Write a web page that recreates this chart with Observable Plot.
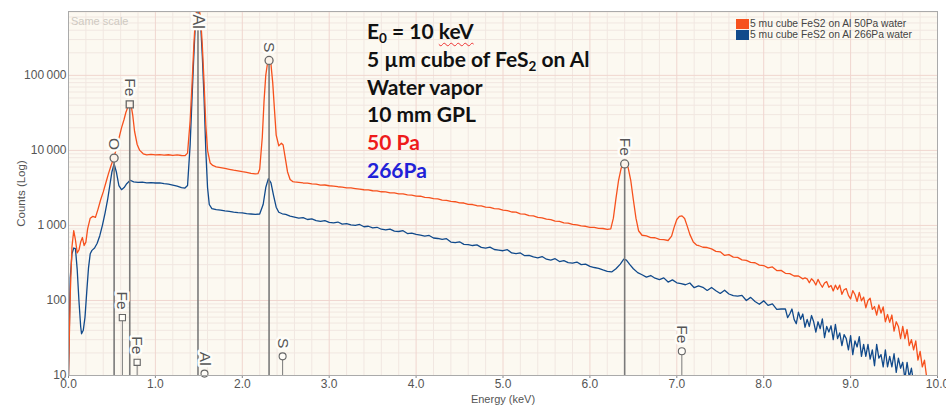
<!DOCTYPE html>
<html><head><meta charset="utf-8">
<script src="https://cdn.jsdelivr.net/npm/d3@7"></script>
<script src="https://cdn.jsdelivr.net/npm/@observablehq/plot@0.6"></script>
<style>
body{margin:0;background:#fff;}
#wrap{position:relative;width:946px;height:405px;}
#note{position:absolute;left:367px;top:17px;font-family:Lato,"Open Sans",sans-serif;font-weight:bold;font-size:21px;line-height:27.8px;color:#111;white-space:nowrap;}
#note sub{font-size:13.5px;line-height:0;vertical-align:-4px;}
#note .sq{text-decoration:underline wavy #e33;text-decoration-thickness:1px;text-underline-offset:3px;}
#legend{position:absolute;left:736px;top:19px;font-family:"Liberation Sans",Arial,sans-serif;font-size:10.3px;color:#444;line-height:10.5px;}
#legend .row{display:flex;align-items:center;height:10.5px;}
#legend .sw{width:13px;height:10px;margin-right:1px;}
#same{position:absolute;left:71px;top:15px;font-family:"Liberation Sans",Arial,sans-serif;font-size:11px;color:#cfcac2;}
g[aria-label$="tick label"]{font-family:"Liberation Sans Narrow","Liberation Sans",Arial,sans-serif;font-size:12px;}
g[aria-label="x-axis label"]{font-size:11px;}
</style>
</head><body>
<div id="wrap"></div>
<script>
// Spectrum 1: 5 mu cube FeS2 on Al, 50 Pa water  [energy keV, counts]
const spec50 = [
[0.00,10],[0.02,120],[0.04,520],[0.06,850],[0.08,640],[0.10,430],[0.12,470],[0.14,600],[0.16,690],[0.18,540],[0.20,600],[0.22,900],[0.25,1250],[0.28,1320],[0.31,1280],[0.34,1650],[0.37,2200],[0.40,2800],[0.43,3700],[0.46,4900],[0.49,6300],[0.52,7900],[0.55,10500],[0.58,14500],[0.61,20000],[0.64,26000],[0.66,32000],[0.68,37000],[0.70,40500],[0.72,40000],[0.74,29000],[0.76,18000],[0.79,12000],[0.82,10000],[0.86,9000],[0.90,8700],[0.95,8850],[1.00,8700],[1.05,8800],[1.10,8650],[1.15,8750],[1.20,8600],[1.25,8700],[1.30,8550],[1.34,8500],[1.37,9200],[1.40,25000],[1.42,70000],[1.44,220000],[1.46,600000],[1.49,900000],[1.52,600000],[1.54,250000],[1.56,80000],[1.58,22000],[1.60,10000],[1.63,6800],[1.66,6300],[1.70,6050],[1.75,5900],[1.80,5750],[1.85,5600],[1.90,5450],[1.95,5350],[2.00,5200],[2.05,5100],[2.10,4950],[2.15,4880],[2.18,4900],[2.20,5600],[2.23,15000],[2.25,45000],[2.27,100000],[2.29,145000],[2.31,160000],[2.33,140000],[2.35,80000],[2.37,35000],[2.39,16000],[2.42,11500],[2.45,12500],[2.47,11800],[2.49,8500],[2.52,5200],[2.55,4100],[2.58,3850],
[2.60,3800],[2.65,3760],[2.70,3680],[2.75,3660],[2.80,3570],[2.85,3560],[2.90,3450],[2.95,3460],[3.00,3380],[3.05,3340],[3.10,3280],[3.15,3250],[3.20,3170],[3.25,3160],[3.30,3100],[3.35,3050],[3.40,2990],[3.45,2980],[3.50,2900],[3.55,2880],[3.60,2810],[3.65,2800],[3.70,2720],[3.75,2710],[3.80,2640],[3.85,2630],[3.90,2550],[3.95,2530],[4.00,2460],[4.05,2450],[4.10,2360],[4.15,2350],[4.20,2270],[4.25,2260],[4.30,2180],[4.35,2160],[4.40,2090],[4.45,2070],[4.50,2000],[4.55,1990],[4.60,1910],[4.65,1900],[4.70,1830],[4.75,1820],[4.80,1750],[4.85,1740],[4.90,1670],[4.95,1660],[5.00,1600],[5.05,1580],[5.10,1510],[5.15,1500],[5.20,1430],[5.25,1415],[5.30,1350],[5.35,1340],[5.40,1280],[5.45,1265],[5.50,1210],[5.55,1195],[5.60,1140],[5.65,1130],[5.70,1080],[5.75,1075],[5.80,1030],[5.85,1020],[5.90,985],[5.95,975],[6.00,945],[6.05,940],[6.10,915],[6.15,910],[6.20,885],
[6.24,900],[6.27,1250],[6.30,2300],[6.33,4000],[6.36,5800],[6.39,6600],[6.41,6700],[6.44,5900],[6.47,4000],[6.50,2200],[6.53,1250],[6.56,850],[6.60,740],[6.65,725],[6.70,690],[6.75,685],[6.80,650],[6.85,645],[6.90,630],[6.94,720],[6.97,950],[7.00,1200],[7.03,1320],[7.06,1340],[7.09,1240],[7.12,980],[7.15,760],[7.19,600],[7.23,545],
[7.25,540],[7.30,512],[7.35,508],[7.40,488],[7.45,452],[7.50,445],[7.55,398],[7.60,408],[7.65,378],[7.70,375],[7.75,348],[7.80,342],[7.85,322],[7.90,318],[7.95,296],[8.00,292],[8.05,272],[8.10,280],[8.15,250],[8.20,252],[8.25,230],[8.30,228],[8.35,212],[8.40,212],[8.45,194],[8.475,200],
[8.500,194],[8.525,172],[8.550,195],[8.575,182],[8.600,161],[8.625,191],[8.650,167],[8.675,150],[8.700,171],[8.725,178],[8.750,150],[8.775,158],[8.800,134],[8.825,160],[8.850,140],[8.875,160],[8.900,121],[8.925,139],[8.950,144],[8.975,117],[9.000,105],[9.025,135],[9.050,120],[9.075,97],[9.100,128],[9.125,99],[9.150,111],[9.175,80],[9.200,100],[9.225,107],[9.250,76],[9.275,83],[9.300,64],[9.325,87],[9.350,68],[9.375,82],[9.400,52],[9.425,65],[9.450,51],[9.475,64],[9.500,39],[9.525,52],[9.550,45],[9.575,31],[9.600,45],[9.625,31],[9.650,41],[9.675,25],[9.700,30],[9.725,22],[9.750,29],[9.775,16],[9.800,21],[9.825,13],[9.850,16],[9.875,9.5],[9.900,9]
];
// Spectrum 2: 5 mu cube FeS2 on Al, 266 Pa water  [energy keV, counts]
const spec266 = [
[0.00,10],[0.02,200],[0.04,420],[0.06,500],[0.08,490],[0.10,260],[0.12,100],[0.14,45],[0.15,36],[0.17,40],[0.19,60],[0.21,130],[0.23,270],[0.25,420],[0.27,465],[0.30,500],[0.33,580],[0.36,730],[0.39,1000],[0.42,1450],[0.45,2200],[0.48,3700],[0.50,5200],[0.525,6600],[0.55,5200],[0.58,3400],[0.61,3000],[0.64,3200],[0.67,3600],[0.71,4000],[0.75,3800],[0.80,3750],[0.85,3780],[0.90,3700],[0.95,3720],[1.00,3680],[1.05,3700],[1.10,3600],[1.15,3550],[1.20,3450],[1.25,3350],[1.30,3200],[1.34,3150],[1.37,3400],[1.40,12000],[1.42,45000],[1.44,160000],[1.46,500000],[1.49,800000],[1.52,500000],[1.54,180000],[1.56,50000],[1.58,10000],[1.60,3200],[1.62,1900],[1.65,1680],[1.70,1620],[1.75,1600],[1.80,1560],[1.85,1540],[1.90,1500],[1.95,1480],[2.00,1470],[2.05,1440],[2.10,1420],[2.15,1400],[2.20,1420],[2.24,1900],[2.27,3200],[2.30,4200],[2.33,3700],[2.36,2500],[2.39,1750],[2.42,1500],[2.46,1430],[2.50,1400],[2.55,1330],
[2.60,1290],[2.65,1250],[2.70,1270],[2.75,1200],[2.80,1220],[2.85,1160],[2.90,1130],[2.95,1160],[3.00,1100],[3.05,1080],[3.10,1110],[3.15,1040],[3.20,1060],[3.25,1020],[3.30,1000],[3.35,1030],[3.40,960],[3.45,975],[3.50,930],[3.55,945],[3.60,890],[3.65,870],[3.70,895],[3.75,840],[3.80,830],[3.85,850],[3.90,780],[3.95,790],[4.00,760],[4.05,745],[4.10,720],[4.15,735],[4.20,680],[4.25,670],[4.30,650],[4.35,665],[4.40,600],[4.45,590],[4.50,605],[4.55,560],[4.60,555],[4.65,540],[4.70,550],[4.75,510],[4.80,500],[4.85,515],[4.90,478],[4.95,470],[5.00,460],[5.05,475],[5.10,430],[5.15,420],[5.20,430],[5.25,395],[5.30,400],[5.35,380],[5.40,370],[5.45,385],[5.50,355],[5.55,345],[5.60,360],[5.65,330],[5.70,340],[5.75,320],[5.80,315],[5.85,325],[5.90,300],[5.95,305],[6.00,285],[6.05,275],[6.10,268],[6.15,255],[6.20,245],
[6.25,240],[6.30,265],[6.35,305],[6.39,355],[6.42,345],[6.46,300],[6.50,265],[6.55,235],[6.60,220],[6.65,205],[6.70,215],[6.75,198],[6.80,190],[6.85,200],[6.90,176],[6.95,188],[7.00,172],[7.05,168],[7.10,162],[7.15,171],[7.20,148],[7.25,156],[7.30,150],[7.35,136],[7.40,149],[7.45,135],[7.50,124],[7.55,137],[7.60,122],[7.65,116],[7.70,114],[7.75,117],[7.80,100],[7.85,110],[7.90,97],[7.95,89],[8.00,99],[8.05,86],[8.10,90],[8.15,76],[8.20,77],
[8.250,77],[8.275,59],[8.300,66],[8.325,77],[8.350,56],[8.375,49],[8.400,70],[8.425,56],[8.450,66],[8.475,44],[8.500,56],[8.525,45],[8.550,63],[8.575,52],[8.600,38],[8.625,52],[8.650,42],[8.675,57],[8.700,32],[8.725,45],[8.750,38],[8.775,46],[8.800,30],[8.825,48],[8.850,31],[8.875,37],[8.900,25],[8.925,35],[8.950,31],[8.975,22],[9.000,34],[9.025,19],[9.050,29],[9.075,24],[9.100,33],[9.125,18],[9.150,26],[9.175,18],[9.200,26],[9.225,16.5],[9.250,22],[9.275,13.5],[9.300,26],[9.325,17],[9.350,19],[9.375,13],[9.400,22],[9.425,13],[9.450,18],[9.475,13],[9.500,19.5],[9.525,11],[9.550,17],[9.575,12.5],[9.600,15],[9.625,9],[9.650,15],[9.675,9.5],[9.700,12.5],[9.725,8],[9.750,10],[9.775,8]
];
const seriesNames = ["5 mu cube FeS2 on Al 50Pa water", "5 mu cube FeS2 on Al 266Pa water"];
const seriesColors = ["#f6511d", "#114a8b"];

// X-ray line markers
const majorMarkers = [
  {el: "O",  e: 0.525, c: 7900,   sym: "circle"},
  {el: "Fe", e: 0.705, c: 41000,  sym: "square"},
  {el: "S",  e: 2.308, c: 158000, sym: "circle"},
  {el: "Fe", e: 6.400, c: 6600,   sym: "circle"}
];
const topMarkers = [{el: "Al", e: 1.49}];
const minorMarkers = [
  {el: "Fe", e: 0.62,  c: 59,   sym: "square"},
  {el: "Fe", e: 0.79,  c: 15,   sym: "square"},
  {el: "Al", e: 1.565, c: 10.6, sym: "circle"},
  {el: "S",  e: 2.464, c: 18,   sym: "circle"},
  {el: "Fe", e: 7.058, c: 21,   sym: "circle"}
];

const xTicks = [0,1,2,3,4,5,6,7,8,9,10];
const yTicks = [10,100,1000,10000,100000];
const yTop = 710000;

const xMinor = d3.range(0, 10.001, 0.2).map(v => +v.toFixed(1)).filter(v => !xTicks.includes(v));
const yMinor = yTicks.flatMap(d => [2,3,4,5,6,7,8,9].map(k => k * d)).filter(v => v < yTop);

const halo = "#fefdf9";
const chart = Plot.plot({
  width: 946, height: 405,
  marginLeft: 68, marginRight: 9, marginTop: 11, marginBottom: 30,
  style: {background: "#fff", fontFamily: "'Liberation Sans', Arial, sans-serif", fontSize: "11.5px", color: "#555"},
  x: {domain: [0, 10]},
  y: {type: "log", domain: [10, yTop]},
  marks: [
    Plot.frame({fill: "#fcf9f1"}),
    Plot.ruleX(xMinor, {stroke: "#f1e7e1", strokeWidth: 1}),
    Plot.ruleY(yMinor, {stroke: "#f1e7e1", strokeWidth: 1}),
    Plot.ruleX(xTicks, {stroke: "#f0d6cf", strokeWidth: 1}),
    Plot.ruleY(yTicks, {stroke: "#f0d6cf", strokeWidth: 1}),
    Plot.axisX({ticks: xTicks, tickFormat: d => d.toFixed(1), tickSize: 3, tickPadding: 1, stroke: "#888",
      label: "Energy (keV)", labelAnchor: "center", labelArrow: "none", labelOffset: 27}),
    Plot.axisY({ticks: yTicks, tickFormat: d => d3.format(",")(d).replace(/,/g, "\u2009"), tickSize: 0, tickPadding: 2,
      label: "Counts (Log)", labelAnchor: "center", labelArrow: "none", labelOffset: 52}),
    Plot.line(spec266, {x: d => d[0], y: d => d[1], stroke: seriesColors[1], strokeWidth: 1.3, clip: true}),
    Plot.line(spec50, {x: d => d[0], y: d => d[1], stroke: seriesColors[0], strokeWidth: 1.3, clip: true}),
    // marker lines
    Plot.ruleX(minorMarkers, {x: "e", y1: 10, y2: "c", stroke: "#7a7a7a", strokeWidth: 1}),
    Plot.ruleX(majorMarkers, {x: "e", y1: 10, y2: "c", stroke: "#7a7a7a", strokeWidth: 1.6}),
    Plot.ruleX(topMarkers, {x: "e", y1: 10, y2: yTop, stroke: "#7a7a7a", strokeWidth: 1.6}),
    Plot.dot(majorMarkers, {x: "e", y: "c", symbol: "sym", r: 4, fill: "#fbf3ea", stroke: "#666", strokeWidth: 1.3}),
    Plot.dot(minorMarkers, {x: "e", y: "c", symbol: "sym", r: 3.5, fill: "#fffdf8", stroke: "#666", strokeWidth: 1.1}),
    Plot.text(majorMarkers, {x: "e", y: "c", text: "el", rotate: 90, textAnchor: "end", dy: -8, fontSize: 15.5, fill: "#555", stroke: halo, strokeWidth: 5}),
    Plot.text(minorMarkers, {x: "e", y: "c", text: "el", rotate: 90, textAnchor: "end", dy: -8, fontSize: 15.5, fill: "#555", stroke: halo, strokeWidth: 5}),
    Plot.text(topMarkers, {x: "e", y: yTop, text: "el", rotate: 90, textAnchor: "start", dy: 3, fontSize: 16, fill: "#555", stroke: halo, strokeWidth: 5}),
    Plot.frame({stroke: "#aaa"})
  ]
});
const wrap = document.getElementById("wrap");
wrap.appendChild(chart);

const same = document.createElement("div");
same.id = "same"; same.textContent = "Same scale";
wrap.appendChild(same);

const note = document.createElement("div");
note.id = "note";
note.innerHTML = '<div>E<sub>0</sub> = 10 <span class="sq">keV</span></div>' +
  '<div>5 µm cube of FeS<sub>2</sub> on Al</div>' +
  '<div>Water vapor</div>' +
  '<div>10 mm GPL</div>' +
  '<div style="color:#ee1c1c">50 Pa</div>' +
  '<div style="color:#1f22d8">266Pa</div>';
wrap.appendChild(note);

const legend = document.createElement("div");
legend.id = "legend";
seriesNames.forEach((n, i) => {
  const row = document.createElement("div");
  row.className = "row";
  row.innerHTML = `<span class="sw" style="background:${seriesColors[i]}"></span><span>${n}</span>`;
  legend.appendChild(row);
});
wrap.appendChild(legend);
</script>
</body></html>
